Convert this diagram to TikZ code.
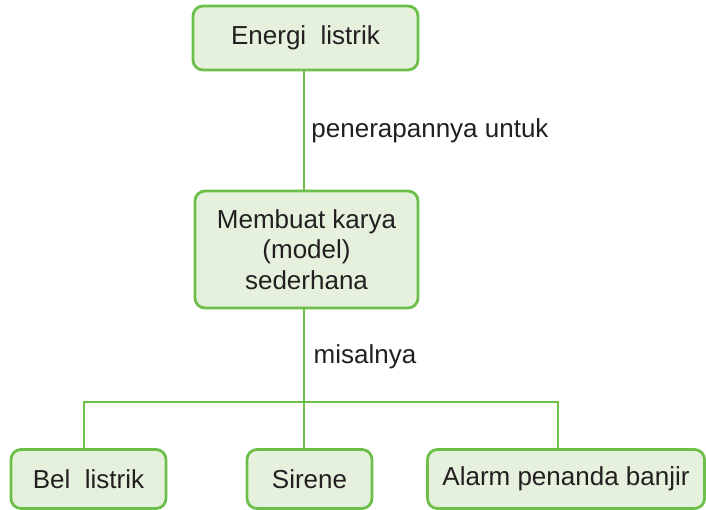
\documentclass[tikz,border=0pt]{standalone}
\usepackage{fontspec}
\setmainfont{Liberation Sans}
\definecolor{boxline}{HTML}{6CC04A}
\definecolor{boxfill}{HTML}{E5F1DC}
\definecolor{ink}{HTML}{231F20}
\begin{document}
\begin{tikzpicture}[x=1pt,y=-1pt,
  every node/.style={text=ink,font=\fontsize{26}{30.5}\selectfont},
  box/.style={draw=boxline,fill=boxfill,line width=2.8pt,rounded corners=10pt,
    inner sep=0pt,align=center},
  link/.style={draw=boxline,line width=2.5pt},
  lbl/.style={anchor=center,inner sep=0pt}]
\useasboundingbox (0,0) rectangle (706,510);
% boxes
\node[box,minimum width=225pt,minimum height=64pt] (energi) at (305.5,38) {Energi\ \ listrik};
\node[box,minimum width=223pt,minimum height=117pt] (karya) at (306.5,249.5)
  {Membuat karya\\(model)\\sederhana};
\node[box,minimum width=155pt,minimum height=59pt] (bel) at (88.5,479) {Bel\ \ listrik};
\node[box,minimum width=125pt,minimum height=59pt] (sirene) at (309.5,479) {Sirene};
\node[box,minimum width=277pt,minimum height=59pt] (alarm) at (566,479) {Alarm penanda banjir};
% connectors
\coordinate (split) at (304,402);
\draw[link] (energi.south -| split) -- (karya.north -| split);
\draw[link] (karya.south -| split) -- (split);
\draw[link] (bel.north -| 84,0) |- (split) -| (alarm.north -| 558,0);
\draw[link] (split) -- (sirene.north -| split);
% labels
\node[lbl] (lbl1) at (430,131) {penerapannya untuk};
\node[lbl] (lbl2) at (365,357) {misalnya};
\end{tikzpicture}
\end{document}
